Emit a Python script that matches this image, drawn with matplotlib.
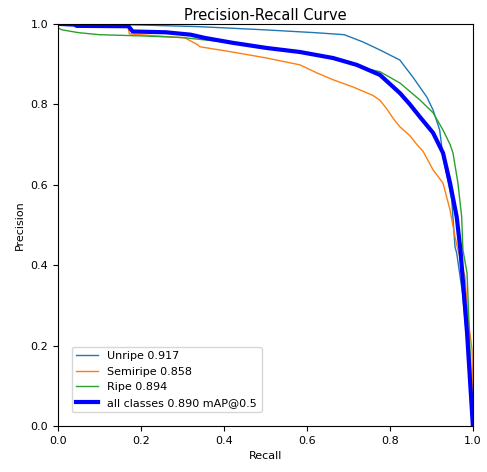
import matplotlib
matplotlib.use("Agg")
import matplotlib.pyplot as plt

# Per-class precision-recall curves
unripe_r = [0.0, 0.20, 0.34, 0.50, 0.62, 0.69, 0.735, 0.776, 0.824, 0.855, 0.889,
            0.904, 0.920, 0.928, 0.933, 0.949, 0.957, 0.961, 0.975, 0.988, 1.0]
unripe_p = [1.0, 0.997, 0.993, 0.985, 0.978, 0.973, 0.955, 0.935, 0.910, 0.868, 0.818,
            0.786, 0.736, 0.669, 0.644, 0.562, 0.445, 0.430, 0.330, 0.190, 0.0]

semiripe_r = [0.0, 0.10, 0.168, 0.172, 0.306, 0.337, 0.342, 0.42, 0.503, 0.583, 0.624,
              0.663, 0.711, 0.759, 0.776, 0.793, 0.807, 0.824, 0.848, 0.865, 0.880,
              0.904, 0.928, 0.945, 0.957, 0.964, 0.981, 0.988, 0.998, 1.0]
semiripe_p = [1.0, 0.999, 0.998, 0.975, 0.965, 0.948, 0.943, 0.930, 0.915, 0.898, 0.878,
              0.861, 0.843, 0.822, 0.810, 0.788, 0.766, 0.744, 0.722, 0.700, 0.683,
              0.637, 0.604, 0.537, 0.470, 0.438, 0.371, 0.271, 0.189, 0.0]

ripe_r = [0.0, 0.01, 0.05, 0.10, 0.20, 0.30, 0.354, 0.42, 0.503, 0.583, 0.663, 0.72,
          0.745, 0.776, 0.824, 0.872, 0.904, 0.928, 0.945, 0.952, 0.964, 0.973, 0.976,
          0.986, 1.0]
ripe_p = [0.99, 0.985, 0.978, 0.973, 0.970, 0.966, 0.960, 0.953, 0.940, 0.930, 0.915,
          0.898, 0.888, 0.881, 0.853, 0.811, 0.779, 0.736, 0.700, 0.679, 0.604, 0.520,
          0.438, 0.380, 0.0]

all_r = [0.0, 0.04, 0.045, 0.17, 0.18, 0.26, 0.32, 0.354, 0.42, 0.503, 0.583, 0.663,
         0.72, 0.776, 0.824, 0.848, 0.872, 0.904, 0.928, 0.945, 0.961, 0.970, 0.986, 1.0]
all_p = [1.0, 0.998, 0.995, 0.994, 0.981, 0.979, 0.973, 0.965, 0.953, 0.940, 0.930,
         0.915, 0.898, 0.873, 0.828, 0.800, 0.769, 0.729, 0.679, 0.604, 0.520, 0.438,
         0.231, 0.0]

labels = ["Unripe 0.917", "Semiripe 0.858", "Ripe 0.894", "all classes 0.890 mAP@0.5"]

fig = plt.figure(figsize=(4.87, 4.72), dpi=100)
ax = fig.add_axes([0.119, 0.0975, 0.852, 0.852])

ax.plot(unripe_r, unripe_p, linewidth=1, color="tab:blue", label=labels[0])
ax.plot(semiripe_r, semiripe_p, linewidth=1, color="tab:orange", label=labels[1])
ax.plot(ripe_r, ripe_p, linewidth=1, color="tab:green", label=labels[2])
ax.plot(all_r, all_p, linewidth=3, color="blue", label=labels[3])

ax.set_xlim(0, 1)
ax.set_ylim(0, 1)
ax.set_xlabel("Recall", fontsize=8)
ax.set_ylabel("Precision", fontsize=8)
ax.set_title("Precision-Recall Curve", fontsize=10.5, pad=3)
ax.tick_params(labelsize=8)
ax.legend(loc="lower left", fontsize=8, bbox_to_anchor=(0.02, 0.02))

fig.savefig("out.png", dpi=100)
